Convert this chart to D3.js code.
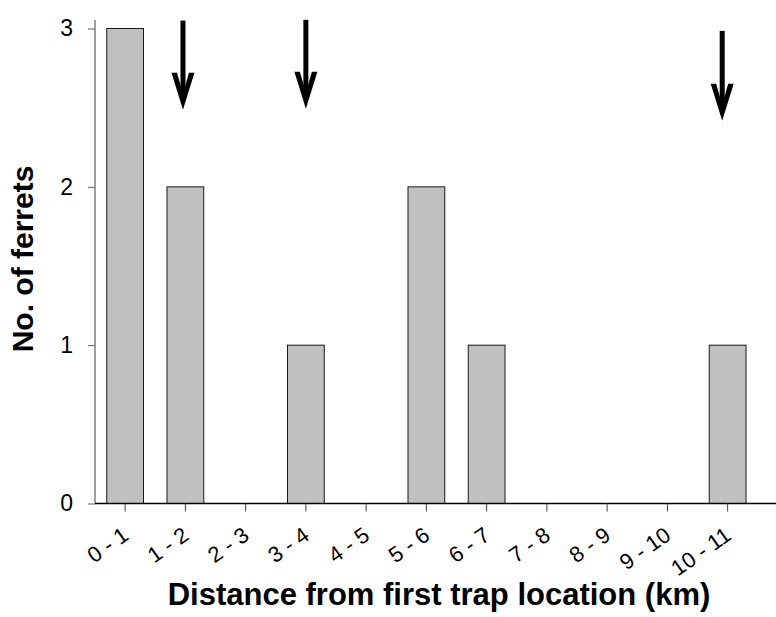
<!DOCTYPE html>
<html>
<head>
<meta charset="utf-8">
<script src="https://cdn.jsdelivr.net/npm/d3@7"></script>
<style>
  body { margin: 0; background: #fff; }
  svg { display: block; font-family: Arial, "Liberation Sans", sans-serif; }
</style>
</head>
<body>
<div id="chart"></div>
<script>
// Data
const categories = ["0 - 1", "1 - 2", "2 - 3", "3 - 4", "4 - 5", "5 - 6", "6 - 7", "7 - 8", "8 - 9", "9 - 10", "10 - 11"];
const ferrets = [3, 2, 0, 1, 0, 2, 1, 0, 0, 0, 1];
const yTicks = [0, 1, 2, 3];

// Arrows (distance in km, top and tip in "No. of ferrets" units)
const arrowKm = [1.46, 3.5, 10.41];
const arrowTop = [3.05, 3.055, 2.985];
const arrowTip = [2.487, 2.493, 2.417];

const width = 776;
const height = 617;
const left = 95;
const step = 60.25;
const fontFamily = "Arial, 'Liberation Sans', sans-serif";

const svg = d3.select("#chart")
  .append("svg")
  .attr("width", width)
  .attr("height", height);

// Scales
const x = d3.scaleBand()
  .domain(categories)
  .range([left, left + step * categories.length])
  .paddingInner(0.39)
  .paddingOuter(0.195);

const km = d3.scaleLinear()
  .domain([0, categories.length])
  .range([left, left + step * categories.length]);

const y = d3.scaleLinear()
  .domain([0, 3])
  .range([503.5, 28.5]);

const barData = categories
  .map((c, i) => ({ cat: c, n: ferrets[i] }))
  .filter((d) => d.n > 0);

// Bars
svg.append("g")
  .selectAll("rect")
  .data(barData)
  .enter()
  .append("rect")
  .attr("x", (d) => x(d.cat))
  .attr("y", (d) => y(d.n))
  .attr("width", x.bandwidth())
  .attr("height", (d) => y(0) - y(d.n))
  .attr("fill", "#c0c0c0")
  .attr("stroke", "#1a1a1a")
  .attr("stroke-width", 1);

// Y axis
const yAxis = svg.append("g")
  .attr("transform", `translate(${left},0)`)
  .call(d3.axisLeft(y).tickValues(yTicks).tickFormat(d3.format("d")).tickSize(7).tickPadding(15));
yAxis.select(".domain")
  .attr("d", `M0,20V${y(0)}`)
  .attr("stroke", "#808080")
  .attr("stroke-width", 1.5);
yAxis.selectAll(".tick line").attr("stroke", "#606060");
yAxis.selectAll(".tick text")
  .attr("font-size", 23)
  .attr("fill", "#000")
  .attr("font-family", fontFamily);

// X axis
const xAxis = svg.append("g")
  .attr("transform", `translate(0,${y(0)})`)
  .call(d3.axisBottom(x).tickSize(8).tickSizeOuter(0));
xAxis.select(".domain")
  .attr("d", `M${left},0H${width}`)
  .attr("stroke", "#000")
  .attr("stroke-width", 1.5);
xAxis.selectAll(".tick line").attr("stroke", "#404040");
xAxis.selectAll(".tick text")
  .attr("font-size", 22)
  .attr("fill", "#000")
  .attr("font-family", fontFamily)
  .attr("text-anchor", "end")
  .attr("dy", null)
  .attr("y", 0)
  .attr("transform", "translate(5,35) rotate(-35)");

// Arrows
const arrows = svg.append("g")
  .selectAll("g")
  .data(arrowKm)
  .enter()
  .append("g");

arrows.append("line")
  .attr("x1", (d) => km(d))
  .attr("x2", (d) => km(d))
  .attr("y1", (d, i) => y(arrowTop[i]))
  .attr("y2", (d, i) => y(arrowTip[i]) - 14)
  .attr("stroke", "#000")
  .attr("stroke-width", 5);

arrows.append("path")
  .attr("d", (d, i) => {
    const cx = km(d);
    const tip = y(arrowTip[i]);
    const top = tip - 37;
    return `M${cx - 11.5},${top}L${cx - 6},${top}L${cx},${tip - 16}L${cx + 6},${top}L${cx + 11.5},${top}L${cx},${tip}Z`;
  })
  .attr("fill", "#000");

// Axis titles
svg.append("text")
  .attr("x", 439)
  .attr("y", 605)
  .attr("text-anchor", "middle")
  .attr("font-size", 31)
  .attr("font-weight", "bold")
  .attr("font-family", fontFamily)
  .text("Distance from first trap location (km)");

svg.append("text")
  .attr("transform", "translate(33,259) rotate(-90)")
  .attr("text-anchor", "middle")
  .attr("font-size", 30)
  .attr("font-weight", "bold")
  .attr("font-family", fontFamily)
  .text("No. of ferrets");
</script>
</body>
</html>
